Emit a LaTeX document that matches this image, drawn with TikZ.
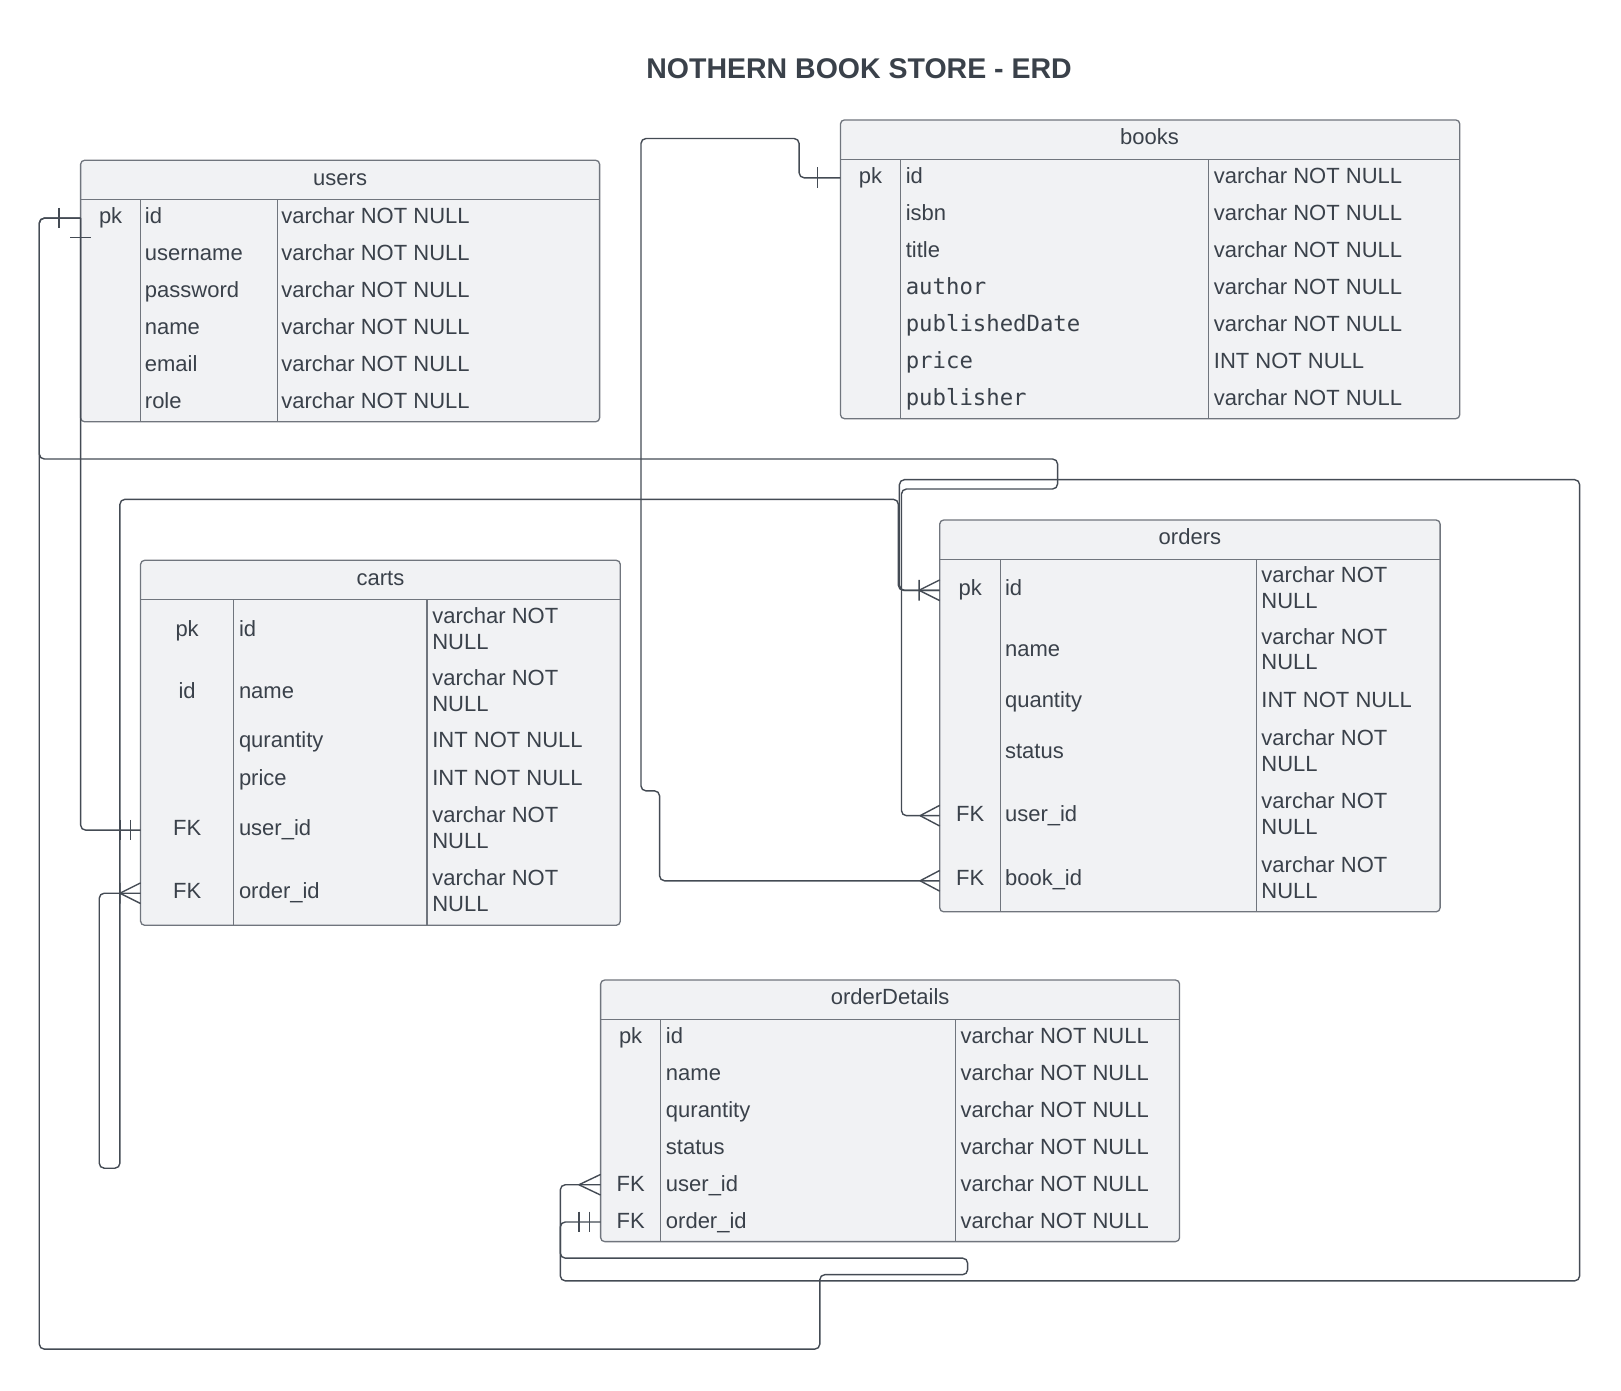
\documentclass[tikz,border=0pt]{standalone}
\usepackage{fontspec}
\setmainfont{Liberation Sans}
\newfontfamily\monof{DejaVu Sans Mono}
\usetikzlibrary{fit}
\definecolor{txtc}{HTML}{3A414A}
\definecolor{fillc}{HTML}{F1F2F4}
\definecolor{bordc}{HTML}{70757D}
\definecolor{linec}{HTML}{444B54}
\newcommand\twoline[2]{\vtop{\hbox{#1}\hbox{#2}}}
\newcommand\mono[1]{{\monof\fontsize{22.3}{25}\selectfont #1}}
\begin{document}
\begin{tikzpicture}[x=1.0338pt,y=-1.0338pt,
 tbl/.style={draw=bordc,fill=fillc,rounded corners=4pt,line width=1.3pt,inner sep=0pt},
 sep/.style={draw=bordc,line width=1.1pt},
 cell/.style={font=\fontsize{22}{25.8}\selectfont,text=txtc,inner sep=0pt,anchor=base west},
 key/.style={cell,anchor=base},
 head/.style={cell,anchor=base},
 conn/.style={draw=linec,line width=1.4pt,rounded corners=5pt},
 mk/.style={draw=linec,line width=1.4pt},
]
\path[use as bounding box] (0,0) rectangle (1568,1345);

\node[font=\bfseries\fontsize{28.5}{32}\selectfont,text=txtc,anchor=base,inner sep=0pt] (title) at (831,76) {NOTHERN BOOK STORE - ERD};

% ---------- users
\node[tbl,fit={(78,155) (580,408)}] (users) {};
\draw[sep] (78,193) -- (580,193) (136,193) -- (136,408) (268,193) -- (268,408);
\node[head] (users-h) at (329,179) {users};
\foreach \k/\n/\t [count=\i] in {pk/id/varchar NOT NULL, {}/username/varchar NOT NULL, {}/password/varchar NOT NULL, {}/name/varchar NOT NULL, {}/email/varchar NOT NULL, {}/role/varchar NOT NULL}{
  \pgfmathsetmacro\yb{193+(\i-0.5)*35.83+5.5}
  \node[key] (users-k\i) at (107,\yb) {\k};
  \node[cell] (users-n\i) at (140,\yb) {\n};
  \node[cell] (users-t\i) at (272,\yb) {\t};
}

% ---------- books
\node[tbl,fit={(813,116) (1412,405)}] (books) {};
\draw[sep] (813,154) -- (1412,154) (871,154) -- (871,405) (1169,154) -- (1169,405);
\node[head] (books-h) at (1112,140) {books};
\foreach \k/\n/\t [count=\i] in {pk/id/varchar NOT NULL, {}/isbn/varchar NOT NULL, {}/title/varchar NOT NULL, {}/{\mono{author}}/varchar NOT NULL, {}/{\mono{publishedDate}}/varchar NOT NULL, {}/{\mono{price}}/INT NOT NULL, {}/{\mono{publisher}}/varchar NOT NULL}{
  \pgfmathsetmacro\yb{154+(\i-0.5)*35.86+5.5}
  \node[key] (books-k\i) at (842,\yb) {\k};
  \node[cell] (books-n\i) at (876,\yb) {\n};
  \node[cell] (books-t\i) at (1174,\yb) {\t};
}

% ---------- carts
\node[tbl,fit={(136,542) (600,895)}] (carts) {};
\draw[sep] (136,580) -- (600,580) (226,580) -- (226,895) (413,580) -- (413,895);
\node[head] (carts-h) at (368,566) {carts};
\foreach \yc/\yt/\k/\n/\t [count=\i] in {
  610/603/pk/id/{\twoline{varchar NOT}{NULL}},
  670/663/id/name/{\twoline{varchar NOT}{NULL}},
  718/723.5/{}/qurantity/INT NOT NULL,
  754/759.5/{}/price/INT NOT NULL,
  802.5/795.5/FK/user\_id/{\twoline{varchar NOT}{NULL}},
  864/857/FK/order\_id/{\twoline{varchar NOT}{NULL}}}{
  \node[key] (carts-k\i) at (181,\yc+5.5) {\k};
  \node[cell] (carts-n\i) at (231,\yc+5.5) {\n};
  \node[cell] (carts-t\i) at (418,\yt) {\t};
}

% ---------- orders
\node[tbl,fit={(909,503) (1393,882)}] (orders) {};
\draw[sep] (909,541) -- (1393,541) (968,541) -- (968,882) (1215,541) -- (1215,882);
\node[head] (orders-h) at (1151,527) {orders};
\foreach \yc/\yt/\k/\n/\t [count=\i] in {
  570.5/563.5/pk/id/{\twoline{varchar NOT}{NULL}},
  630/623/{}/name/{\twoline{varchar NOT}{NULL}},
  679/684.5/{}/quantity/INT NOT NULL,
  728/721/{}/status/{\twoline{varchar NOT}{NULL}},
  789/782/FK/user\_id/{\twoline{varchar NOT}{NULL}},
  851/844/FK/book\_id/{\twoline{varchar NOT}{NULL}}}{
  \node[key] (orders-k\i) at (938.5,\yc+5.5) {\k};
  \node[cell] (orders-n\i) at (972,\yc+5.5) {\n};
  \node[cell] (orders-t\i) at (1220,\yt) {\t};
}

% ---------- orderDetails
\node[tbl,fit={(581,948) (1141,1201)}] (details) {};
\draw[sep] (581,986) -- (1141,986) (639,986) -- (639,1201) (924,986) -- (924,1201);
\node[head] (details-h) at (861,972) {orderDetails};
\foreach \k/\n/\t [count=\i] in {pk/id/varchar NOT NULL, {}/name/varchar NOT NULL, {}/qurantity/varchar NOT NULL, {}/status/varchar NOT NULL, FK/user\_id/varchar NOT NULL, FK/order\_id/varchar NOT NULL}{
  \pgfmathsetmacro\yb{986+(\i-0.5)*35.83+5.5}
  \node[key] (details-k\i) at (610,\yb) {\k};
  \node[cell] (details-n\i) at (644,\yb) {\n};
  \node[cell] (details-t\i) at (929,\yb) {\t};
}

% ---------- attachment points
\coordinate (u-id) at (78,211);
\coordinate (c-user) at (136,803);
\coordinate (c-order) at (136,864);
\coordinate (o-id) at (909,571);
\coordinate (o-user) at (909,789);
\coordinate (o-book) at (909,852);
\coordinate (d-user) at (581,1146);
\coordinate (d-order) at (581,1182);
\coordinate (b-id) at (813,172);

% ---------- connectors
\draw[conn] (u-id) |- (c-user);
\draw[conn] (u-id) -- (38,211) -- (38,444) -- (1023,444) -- (1023,473) -- (872,473) |- (o-user);
\draw[conn] (u-id) -- (38,211) -- (38,1305) -- (793,1305) -- (793,1233) -- (936,1233) -- (936,1217) -- (542,1217) |- (d-user);
\draw[conn] (d-order) -- (542,1182) -- (542,1239) -- (1528,1239) -- (1528,464) -- (870,464) |- (o-id);
\draw[conn] (c-order) -- (96,864) -- (96,1130) -- (116,1130) -- (116,483) -- (869,483) |- (o-id);
\draw[conn] (b-id) -- (773,172) -- (773,134) -- (620,134) -- (620,765) -- (638,765) |- (o-book);

% ---------- markers
\draw[mk,shift={(u-id)}] (-21,-10) -- (-21,10) (-10,19) -- (10,19);
\draw[mk,shift={(c-user)}] (-20,-10) -- (-20,10) (-10,-10) -- (-10,10);
\draw[mk,shift={(c-order)}] (-20,0) -- (0,-10) (-20,0) -- (0,10) (-20,-10) -- (-20,10);
\draw[mk,shift={(o-id)}] (-20,0) -- (0,-10) (-20,0) -- (0,10) (-20,-10) -- (-20,10);
\draw[mk,shift={(o-user)}] (-19,0) -- (0,-10) (-19,0) -- (0,10);
\draw[mk,shift={(o-book)}] (-19,0) -- (0,-10) (-19,0) -- (0,10);
\draw[mk,shift={(d-user)}] (-21,0) -- (0,-10) (-21,0) -- (0,10);
\draw[mk,shift={(d-order)}] (-21,-10) -- (-21,10) (-11,-10) -- (-11,10);
\draw[mk,shift={(b-id)}] (-22,-10) -- (-22,10);
\end{tikzpicture}
\end{document}
